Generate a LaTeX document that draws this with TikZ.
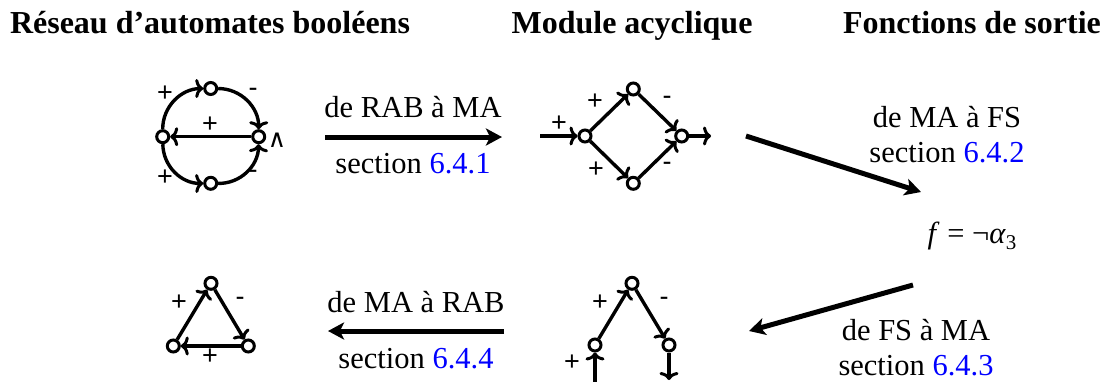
\documentclass[tikz,border=0pt]{standalone}
\usepackage{fontspec}
\setmainfont{Liberation Serif}
\newfontfamily\lblfont{Liberation Sans}
\newfontfamily\symfont{DejaVu Sans}
\usetikzlibrary{arrows.meta}
\begin{document}
\begin{tikzpicture}[x=1pt,y=-1pt,
  vtx/.style={circle,draw,line width=3pt,inner sep=0pt,minimum size=12pt},
  edge/.style={line width=3.4pt,-{Computer Modern Rightarrow[length=8pt,width=19pt,line width=3pt]}},
  big/.style={line width=5pt,-{Stealth[length=16pt,width=17pt,inset=4pt]}},
  sgn/.style={font=\lblfont\fontsize{27}{27}\selectfont,inner sep=0pt},
  txt/.style={font=\fontsize{30.5}{34}\selectfont,inner sep=0pt,anchor=base},
  ttl/.style={font=\bfseries\fontsize{32}{36}\selectfont,inner sep=0pt,anchor=base},
]
\useasboundingbox (0,0) rectangle (1109,381);

% titles
\node[ttl] (h1) at (210,33) {Réseau d’automates booléens};
\node[ttl] (h2) at (632,33) {Module acyclique};
\node[ttl] (h3) at (972,33) {Fonctions de sortie};

% graph 1: boolean automata network
\node[vtx] (a1) at (162.7,136.7) {};
\node[vtx] (a2) at (210.7,88.5) {};
\node[vtx] (a3) at (258.7,136.7) {};
\node[vtx] (a4) at (210.7,183.3) {};
\draw[edge] (a1) to[bend left=45] (a2);
\draw[edge] (a2) to[bend left=45] (a3);
\draw[edge] (a1) to[bend right=45] (a4);
\draw[edge] (a4) to[bend right=45] (a3);
\draw[edge] (a3) -- (a1);
\node[sgn] (s1) at (165,94) {+};
\node[sgn] (s2) at (253,92) {-};
\node[sgn] (s3) at (210,125) {+};
\node[sgn] (s4) at (165,178) {+};
\node[sgn] (s5) at (253,174) {-};
\node[font=\symfont\fontsize{25}{25}\selectfont,inner sep=0pt] (w1) at (277,140) {∧};

% arrow RAB -> MA
\coordinate (p1) at (325,137);
\coordinate (p2) at (502,137);
\draw[big] (p1) -- (p2);
\node[txt] (l1) at (413,117) {de RAB à MA};
\node[txt] (l2) at (413,173) {section \textcolor{blue}{6.4.1}};

% graph 2: acyclic module
\coordinate (bi) at (540,136);
\node[vtx] (b1) at (585,136) {};
\node[vtx] (b2) at (633.3,89) {};
\node[vtx] (b3) at (633.3,183.3) {};
\node[vtx] (b4) at (681.7,136) {};
\coordinate (bo) at (711,136);
\draw[edge] (bi) -- (b1);
\draw[edge] (b1) -- (b2);
\draw[edge] (b1) -- (b3);
\draw[edge] (b2) -- (b4);
\draw[edge] (b3) -- (b4);
\draw[edge] (b4) -- (bo);
\node[sgn] (t1) at (559,124) {+};
\node[sgn] (t2) at (595,102) {+};
\node[sgn] (t3) at (667,100) {-};
\node[sgn] (t4) at (596,170) {+};
\node[sgn] (t5) at (667,166) {-};

% diagonal arrow MA -> FS
\coordinate (p3) at (746,136);
\coordinate (p4) at (921,192);
\draw[big] (p3) -- (p4);
\node[txt] (l3) at (947,127) {de MA à FS};
\node[txt] (l4) at (947,162) {section \textcolor{blue}{6.4.2}};

% output function
\node[txt] (fx) at (972,243) {\textit{f} = ¬\textit{α}\raisebox{-0.22em}{\fontsize{21}{21}\selectfont 3}};

% diagonal arrow FS -> MA
\coordinate (p5) at (913,285);
\coordinate (p6) at (749,331);
\draw[big] (p5) -- (p6);
\node[txt] (l5) at (916,340) {de FS à MA};
\node[txt] (l6) at (916,375) {section \textcolor{blue}{6.4.3}};

% graph 4: bottom acyclic module
\coordinate (di) at (595,386);
\node[vtx] (d1) at (595,345) {};
\node[vtx] (d2) at (632,283.3) {};
\node[vtx] (d3) at (669,345) {};
\coordinate (do) at (669,380);
\draw[edge] (di) -- (d1);
\draw[edge] (d1) -- (d2);
\draw[edge] (d2) -- (d3);
\draw[edge] (d3) -- (do);
\node[sgn] (u1) at (572,363) {+};
\node[sgn] (u2) at (600,303) {+};
\node[sgn] (u3) at (664,301) {-};

% arrow MA -> RAB
\coordinate (p7) at (504,331);
\coordinate (p8) at (328,331);
\draw[big] (p7) -- (p8);
\node[txt] (l7) at (416,312) {de MA à RAB};
\node[txt] (l8) at (416,368) {section \textcolor{blue}{6.4.4}};

% graph 3: triangle network
\node[vtx] (c1) at (173.3,346) {};
\node[vtx] (c2) at (211,283.3) {};
\node[vtx] (c3) at (248.3,346) {};
\draw[edge] (c1) -- (c2);
\draw[edge] (c2) -- (c3);
\draw[edge] (c3) -- (c1);
\node[sgn] (v1) at (179,303) {+};
\node[sgn] (v2) at (240,301) {-};
\node[sgn] (v3) at (210,357) {+};
\end{tikzpicture}
\end{document}
